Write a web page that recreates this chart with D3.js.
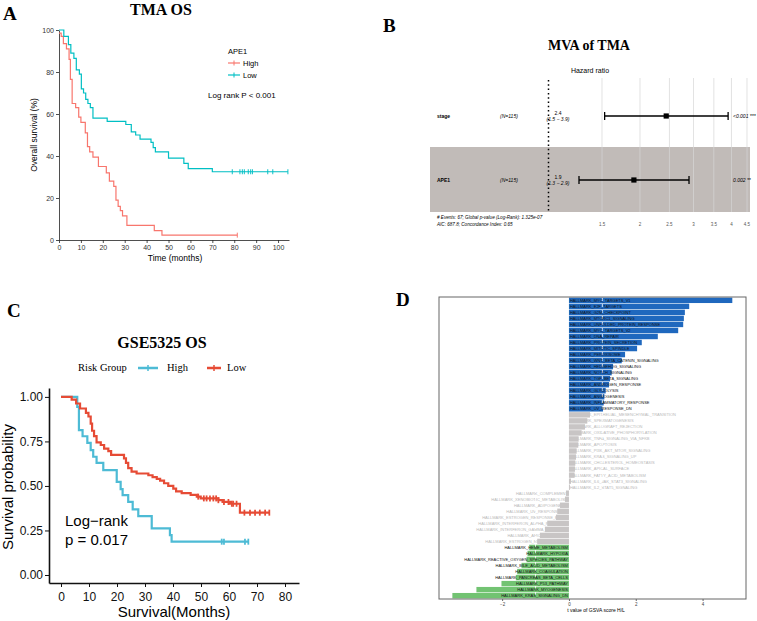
<!DOCTYPE html>
<html>
<head>
<meta charset="utf-8">
<script src="https://cdn.jsdelivr.net/npm/d3@7"></script>
<style>
  body { margin: 0; background: #fff; }
  svg { display: block; }
</style>
</head>
<body>
<div id="chart"></div>
<script>
// ---- Panel A: TMA OS, APE1 high / low (percent survival)
const tmaHighTime = [0, 1, 2, 3.4, 4.6, 5.2, 6, 7.6, 9, 10, 12, 13, 14, 15.5, 18, 21.6, 23, 25, 26, 27, 28, 29, 31, 43.5, 47];
const tmaHighSurv = [98.5, 97, 93.5, 91, 86, 76.5, 65, 63, 58.5, 56, 51, 44.5, 42, 39.5, 35, 32, 28, 25.5, 19, 16, 14, 11.5, 7, 4.5, 2.3];
const tmaHighEnd = 81.4;
const tmaHighCensor = [81.4];
const tmaLowTime = [0, 2.2, 4.3, 5.4, 6.8, 7.9, 9.3, 10.2, 11.2, 12.2, 13.2, 14.3, 15.5, 22, 30.5, 33, 35, 37, 42, 43, 44, 50, 57, 59, 70];
const tmaLowSurv = [100, 97, 93, 89, 86.5, 81, 79, 72, 70, 67, 65, 63, 58, 56.5, 55, 51.5, 50, 48, 46.5, 44, 42, 39, 36.5, 34, 32.5];
const tmaLowEnd = 104.5;
const tmaLowCensor = [79.1, 82.6, 83.7, 84.6, 86.4, 87.5, 88.3, 95.3, 97.6, 104.5];
const tmaXTicks = [0, 10, 20, 30, 40, 50, 60, 70, 80, 90, 100];
const tmaYTicks = [0, 20, 40, 60, 80, 100];

// ---- Panel B: multivariate Cox model
const mvaVars = ["stage", "APE1"];
const mvaN = ["(N=115)", "(N=115)"];
const mvaHR = [2.44, 1.91];
const mvaLow = [1.53, 1.26];
const mvaHigh = [3.9, 2.9];
const mvaHRText = ["2.4", "1.9"];
const mvaCIText = ["(1.5 \u2212 3.9)", "(1.3 \u2212 2.9)"];
const mvaP = ["<0.001 ***", "0.002 **"];
const hrTicks = [1.5, 2, 2.5, 3, 3.5, 4, 4.5];

// ---- Panel C: GSE5325 OS (survival probability)
const gseHighTime = [0, 5.8, 6.4, 7.7, 9.4, 10.6, 11.5, 12.7, 15.1, 19.9, 21.3, 22, 24, 25.6, 27.6, 32.4, 38.9, 39.5];
const gseHighSurv = [1, 0.944, 0.813, 0.779, 0.742, 0.701, 0.664, 0.63, 0.589, 0.523, 0.482, 0.449, 0.411, 0.368, 0.331, 0.262, 0.224, 0.187];
const gseHighEnd = 66.9;
const gseHighCensor = [57.4, 58.2, 65.7];
const gseLowTime = [0, 3.8, 5.4, 6.8, 8.9, 9.8, 10.6, 11.1, 11.8, 12.7, 14.2, 15.4, 16.9, 17.9, 22.5, 23.2, 24, 25.2, 27, 31.2, 32.7, 34.2, 35.4, 36.8, 38.3, 40.1, 41.1, 43.1, 46.3, 48.5, 49.9, 56.2, 57.7, 60.4, 63.9];
const gseLowSurv = [1, 0.985, 0.963, 0.935, 0.91, 0.89, 0.85, 0.81, 0.78, 0.745, 0.73, 0.71, 0.695, 0.675, 0.655, 0.63, 0.6, 0.58, 0.57, 0.56, 0.55, 0.54, 0.53, 0.515, 0.5, 0.485, 0.47, 0.46, 0.45, 0.44, 0.43, 0.42, 0.41, 0.4, 0.35];
const gseLowEnd = 74.4;
const gseLowCensor = [49, 51, 52, 53.2, 54.4, 55.4, 56.2, 58.2, 59.8, 61, 61.5, 62.7, 65.5, 67.5, 69.3, 71, 72.9, 74.4];
const gseXTicks = [0, 10, 20, 30, 40, 50, 60, 70, 80];
const gseYTicks = [0, 0.25, 0.5, 0.75, 1];

// ---- Panel D: GSVA t values (hallmark sets)
const gsvaNames = [
  "HALLMARK_MYC_TARGETS_V1", "HALLMARK_E2F_TARGETS", "HALLMARK_G2M_CHECKPOINT", "HALLMARK_MTORC1_SIGNALING",
  "HALLMARK_UNFOLDED_PROTEIN_RESPONSE", "HALLMARK_MYC_TARGETS_V2", "HALLMARK_DNA_REPAIR", "HALLMARK_PROTEIN_SECRETION",
  "HALLMARK_MITOTIC_SPINDLE", "HALLMARK_PEROXISOME", "HALLMARK_WNT_BETA_CATENIN_SIGNALING", "HALLMARK_HEDGEHOG_SIGNALING",
  "HALLMARK_NOTCH_SIGNALING", "HALLMARK_TGF_BETA_SIGNALING", "HALLMARK_ANDROGEN_RESPONSE", "HALLMARK_GLYCOLYSIS",
  "HALLMARK_ANGIOGENESIS", "HALLMARK_INFLAMMATORY_RESPONSE", "HALLMARK_UV_RESPONSE_DN", "HALLMARK_EPITHELIAL_MESENCHYMAL_TRANSITION",
  "HALLMARK_SPERMATOGENESIS", "HALLMARK_ALLOGRAFT_REJECTION", "HALLMARK_OXIDATIVE_PHOSPHORYLATION", "HALLMARK_TNFA_SIGNALING_VIA_NFKB",
  "HALLMARK_APOPTOSIS", "HALLMARK_PI3K_AKT_MTOR_SIGNALING", "HALLMARK_KRAS_SIGNALING_UP", "HALLMARK_CHOLESTEROL_HOMEOSTASIS",
  "HALLMARK_APICAL_SURFACE", "HALLMARK_FATTY_ACID_METABOLISM", "HALLMARK_IL6_JAK_STAT3_SIGNALING", "HALLMARK_IL2_STAT5_SIGNALING",
  "HALLMARK_COMPLEMENT", "HALLMARK_XENOBIOTIC_METABOLISM", "HALLMARK_ADIPOGENESIS", "HALLMARK_UV_RESPONSE_UP",
  "HALLMARK_ESTROGEN_RESPONSE_EARLY", "HALLMARK_INTERFERON_ALPHA_RESPONSE", "HALLMARK_INTERFERON_GAMMA_RESPONSE", "HALLMARK_APICAL_JUNCTION",
  "HALLMARK_ESTROGEN_RESPONSE_LATE", "HALLMARK_HEME_METABOLISM", "HALLMARK_HYPOXIA", "HALLMARK_REACTIVE_OXYGEN_SPECIES_PATHWAY",
  "HALLMARK_BILE_ACID_METABOLISM", "HALLMARK_COAGULATION", "HALLMARK_PANCREAS_BETA_CELLS", "HALLMARK_P53_PATHWAY",
  "HALLMARK_MYOGENESIS", "HALLMARK_KRAS_SIGNALING_DN"
];
const gsvaT = [
  4.89, 3.60, 3.47, 3.44, 3.42, 3.27, 2.66, 2.18, 2.04, 1.68, 1.58, 1.32, 1.28, 1.23, 1.20, 1.10, 1.06, 1.04, 1.02,
  0.63, 0.55, 0.48, 0.38, 0.29, 0.28, 0.23, 0.21, 0.19, 0.18, 0.17, 0.06, 0.03,
  -0.09, -0.12, -0.27, -0.35, -0.39, -0.65, -0.72, -0.87, -0.95,
  -1.19, -1.24, -1.27, -1.42, -1.55, -1.59, -2.02, -2.77, -3.49
];
const gsvaXTicks = [-2, 0, 2, 4];
const gsvaCut = 1;

const sans = "'Liberation Sans', Arial, Helvetica, sans-serif";
const serif = "'Liberation Serif', 'Times New Roman', serif";

const svg = d3.select("#chart").append("svg")
  .attr("width", 757)
  .attr("height", 621)
  .style("font-family", sans);

// helpers for Kaplan-Meier curves
function kmPoints(times, surv, end) {
  const pts = times.map((t, i) => [t, surv[i]]);
  pts.push([end, surv[surv.length - 1]]);
  return pts;
}
function survAt(times, surv, t) {
  let s = surv[0];
  times.forEach((tt, i) => { if (tt <= t) s = surv[i]; });
  return s;
}
function drawKM(g, xs, ys, times, surv, end, censor, color, width, tick) {
  const line = d3.line().x(d => xs(d[0])).y(d => ys(d[1])).curve(d3.curveStepAfter);
  g.append("path")
    .datum(kmPoints(times, surv, end))
    .attr("d", line)
    .attr("fill", "none")
    .attr("stroke", color)
    .attr("stroke-width", width);
  g.selectAll(null)
    .data(censor)
    .enter()
    .append("line")
    .attr("x1", d => xs(d)).attr("x2", d => xs(d))
    .attr("y1", d => ys(survAt(times, surv, d)) - tick)
    .attr("y2", d => ys(survAt(times, surv, d)) + tick)
    .attr("stroke", color)
    .attr("stroke-width", width * 0.8);
}

// panel letters
const letters = [["A", 3, 20], ["B", 383, 32], ["C", 7, 317], ["D", 396, 306]];
svg.selectAll("text.panel-letter")
  .data(letters)
  .enter()
  .append("text")
  .attr("class", "panel-letter")
  .attr("x", d => d[1])
  .attr("y", d => d[2])
  .style("font-family", serif)
  .style("font-weight", "bold")
  .style("font-size", "19px")
  .text(d => d[0]);

// ================= Panel A =================
const gA = svg.append("g");
const ax = d3.scaleLinear().domain([0, 105]).range([59, 289]);
const ay = d3.scaleLinear().domain([0, 100]).range([240, 30]);

gA.append("text")
  .attr("x", 161).attr("y", 15)
  .attr("text-anchor", "middle")
  .style("font-family", serif).style("font-weight", "bold").style("font-size", "16px")
  .text("TMA OS");

const axA = gA.append("g")
  .attr("transform", "translate(0,240)")
  .call(d3.axisBottom(ax).tickValues(tmaXTicks).tickSize(3).tickSizeOuter(0).tickPadding(2));
const ayA = gA.append("g")
  .attr("transform", "translate(59,0)")
  .call(d3.axisLeft(ay).tickValues(tmaYTicks).tickSize(3).tickSizeOuter(0).tickPadding(2));
[axA, ayA].forEach(a => {
  a.selectAll("text").style("font-size", "7px").style("font-family", sans).attr("fill", "#333");
  a.selectAll("line, path").attr("stroke", "#222").attr("stroke-width", 0.8);
});

drawKM(gA, ax, ay, tmaHighTime, tmaHighSurv, tmaHighEnd, tmaHighCensor, "#F8766D", 1.2, 2.5);
drawKM(gA, ax, ay, tmaLowTime, tmaLowSurv, tmaLowEnd, tmaLowCensor, "#00BFC4", 1.2, 2.5);

gA.append("text")
  .attr("x", 175).attr("y", 261)
  .attr("text-anchor", "middle")
  .style("font-size", "8.5px")
  .text("Time (months)");
gA.append("text")
  .attr("transform", "translate(37,135) rotate(-90)")
  .attr("text-anchor", "middle")
  .style("font-size", "8.5px")
  .text("Overall survival (%)");

// legend A
gA.append("text").attr("x", 228).attr("y", 54).style("font-size", "7.5px").text("APE1");
const legA = [["High", "#F8766D", 63], ["Low", "#00BFC4", 75]];
legA.forEach(d => {
  gA.append("line").attr("x1", 228).attr("x2", 240).attr("y1", d[2]).attr("y2", d[2])
    .attr("stroke", d[1]).attr("stroke-width", 1.2);
  gA.append("line").attr("x1", 234).attr("x2", 234).attr("y1", d[2] - 2.5).attr("y2", d[2] + 2.5)
    .attr("stroke", d[1]).attr("stroke-width", 1);
  gA.append("text").attr("x", 243).attr("y", d[2] + 2.7).style("font-size", "7.5px").text(d[0]);
});
gA.append("text")
  .attr("x", 208).attr("y", 98)
  .style("font-size", "8px")
  .text("Log rank P < 0.001");

// ================= Panel B =================
const gB = svg.append("g");
const hx = d3.scaleLog().domain([1, 4.5]).range([548.5, 747]);
const hy = d3.scalePoint().domain(mvaVars).range([116, 180]);

gB.append("text")
  .attr("x", 589).attr("y", 50)
  .attr("text-anchor", "middle")
  .style("font-family", serif).style("font-weight", "bold").style("font-size", "14px")
  .text("MVA of TMA");
gB.append("text")
  .attr("x", 590).attr("y", 73)
  .attr("text-anchor", "middle")
  .style("font-size", "7px")
  .text("Hazard ratio");

// shaded band for second row
gB.append("rect")
  .attr("x", 430).attr("y", 147)
  .attr("width", 320).attr("height", 65)
  .attr("fill", "#c1bbb8");

gB.selectAll("line.grid")
  .data(hrTicks)
  .enter()
  .append("line")
  .attr("class", "grid")
  .attr("x1", d => hx(d)).attr("x2", d => hx(d))
  .attr("y1", 78).attr("y2", 212)
  .attr("stroke", "#d6d6d6")
  .attr("stroke-width", 0.7);

gB.selectAll("text.hrtick")
  .data(hrTicks)
  .enter()
  .append("text")
  .attr("class", "hrtick")
  .attr("x", d => hx(d)).attr("y", 226)
  .attr("text-anchor", "middle")
  .style("font-size", "4.5px")
  .attr("fill", "#555")
  .text(d => d);

gB.append("line")
  .attr("x1", hx(1)).attr("x2", hx(1))
  .attr("y1", 80).attr("y2", 213)
  .attr("stroke", "#000")
  .attr("stroke-width", 1.5)
  .attr("stroke-dasharray", "1.5,2.8");

mvaVars.forEach((v, i) => {
  const y = hy(v);
  gB.append("text").attr("x", 437).attr("y", y + 2)
    .style("font-size", "5px").style("font-weight", "bold").text(v);
  gB.append("text").attr("x", 500).attr("y", y + 2)
    .style("font-size", "5px").style("font-style", "italic").text(mvaN[i]);
  gB.append("text").attr("x", 558).attr("y", y - 1)
    .attr("text-anchor", "middle").style("font-size", "5px").text(mvaHRText[i]);
  gB.append("text").attr("x", 558).attr("y", y + 5)
    .attr("text-anchor", "middle").style("font-size", "5px").style("font-style", "italic").text(mvaCIText[i]);
  gB.append("text").attr("x", 733).attr("y", y + 2)
    .style("font-size", "5px").style("font-style", "italic").text(mvaP[i]);
  gB.append("line")
    .attr("x1", hx(mvaLow[i])).attr("x2", hx(mvaHigh[i]))
    .attr("y1", y).attr("y2", y)
    .attr("stroke", "#000").attr("stroke-width", 1.3);
  [mvaLow[i], mvaHigh[i]].forEach(c => {
    gB.append("line")
      .attr("x1", hx(c)).attr("x2", hx(c))
      .attr("y1", y - 4).attr("y2", y + 4)
      .attr("stroke", "#000").attr("stroke-width", 1.3);
  });
  gB.append("rect")
    .attr("x", hx(mvaHR[i]) - 2.6).attr("y", y - 2.6)
    .attr("width", 5.2).attr("height", 5.2)
    .attr("fill", "#000");
});

gB.append("text").attr("x", 437).attr("y", 219)
  .style("font-size", "4.6px").style("font-style", "italic")
  .text("# Events: 67; Global p-value (Log-Rank): 1.325e-07");
gB.append("text").attr("x", 437).attr("y", 225.5)
  .style("font-size", "4.6px").style("font-style", "italic")
  .text("AIC: 687.8; Concordance Index: 0.65");

// ================= Panel C =================
const gC = svg.append("g");
const cx = d3.scaleLinear().domain([-4.29, 85]).range([49, 299]);
const cy = d3.scaleLinear().domain([-0.045, 1.05]).range([583, 388]);

gC.append("text")
  .attr("x", 162).attr("y", 348)
  .attr("text-anchor", "middle")
  .style("font-family", serif).style("font-weight", "bold").style("font-size", "16px")
  .text("GSE5325 OS");

// legend C
gC.append("text").attr("x", 78).attr("y", 371)
  .style("font-family", serif).style("font-size", "10.5px").text("Risk Group");
const legC = [["High", "#4DBBD5", 138, 158, 167], ["Low", "#E64B35", 207, 221, 227]];
legC.forEach(d => {
  gC.append("line").attr("x1", d[2]).attr("x2", d[3]).attr("y1", 368).attr("y2", 368)
    .attr("stroke", d[1]).attr("stroke-width", 2.5);
  gC.append("line").attr("x1", (d[2] + d[3]) / 2).attr("x2", (d[2] + d[3]) / 2).attr("y1", 365).attr("y2", 371)
    .attr("stroke", d[1]).attr("stroke-width", 1.5);
  gC.append("text").attr("x", d[4]).attr("y", 371)
    .style("font-family", serif).style("font-size", "10.5px").text(d[0]);
});

const axC = gC.append("g")
  .attr("transform", "translate(0,583)")
  .call(d3.axisBottom(cx).tickValues(gseXTicks).tickSize(4).tickSizeOuter(0).tickPadding(5));
const ayC = gC.append("g")
  .attr("transform", "translate(49,0)")
  .call(d3.axisLeft(cy).tickValues(gseYTicks).tickFormat(d3.format(".2f")).tickSize(4).tickSizeOuter(0).tickPadding(2));
[axC, ayC].forEach(a => {
  a.selectAll("text").style("font-size", "12px").style("font-family", sans).attr("fill", "#111");
  a.selectAll("line").attr("stroke", "#111").attr("stroke-width", 1);
  a.select("path.domain").attr("stroke", "#111").attr("stroke-width", 1.6);
});

drawKM(gC, cx, cy, gseHighTime, gseHighSurv, gseHighEnd, gseHighCensor.concat([gseHighEnd]), "#4DBBD5", 2.2, 3);
drawKM(gC, cx, cy, gseLowTime, gseLowSurv, gseLowEnd, gseLowCensor, "#E64B35", 2.2, 3);

gC.append("text")
  .attr("x", 174).attr("y", 617)
  .attr("text-anchor", "middle")
  .style("font-size", "15px")
  .text("Survival(Months)");
gC.append("text")
  .attr("transform", "translate(13,487) rotate(-90)")
  .attr("text-anchor", "middle")
  .style("font-size", "15px")
  .text("Survival probability");
gC.append("text").attr("x", 65).attr("y", 526).style("font-size", "15px").text("Log\u2212rank");
gC.append("text").attr("x", 65).attr("y", 545).style("font-size", "15px").text("p = 0.017");

// ================= Panel D =================
const gD = svg.append("g");
const dx = d3.scaleLinear().domain([-3.89, 5.30]).range([439, 746]);
const dy = d3.scaleBand().domain(gsvaNames).range([297, 599]).paddingInner(0.1).paddingOuter(0.1);
const gsva = gsvaNames.map((n, i) => ({ name: n, t: gsvaT[i] }));
const isSig = d => Math.abs(d.t) >= gsvaCut;
const barColor = d => d.t >= gsvaCut ? "#1f68be" : (d.t <= -gsvaCut ? "#72c372" : "#c8c5c5");

function gsvaLabels(rows) {
  gD.selectAll(null)
    .data(rows)
    .enter()
    .append("text")
    .attr("x", d => d.t >= 0 ? dx(0) + 1 : dx(0) - 1)
    .attr("y", d => dy(d.name) + dy.bandwidth() / 2)
    .attr("dy", "0.35em")
    .attr("text-anchor", d => d.t >= 0 ? "start" : "end")
    .style("font-size", "4px")
    .attr("fill", d => isSig(d) ? "#111" : "#b9b9b9")
    .text(d => d.name);
}

// non-significant labels sit under their bars
gsvaLabels(gsva.filter(d => !isSig(d)));

gD.selectAll("rect.bar")
  .data(gsva)
  .enter()
  .append("rect")
  .attr("class", "bar")
  .attr("x", d => dx(Math.min(0, d.t)))
  .attr("y", d => dy(d.name))
  .attr("width", d => Math.abs(dx(d.t) - dx(0)))
  .attr("height", dy.bandwidth())
  .attr("fill", barColor);

// threshold lines in white
gsvaCut && [-gsvaCut, gsvaCut].forEach(c => {
  gD.append("line")
    .attr("x1", dx(c)).attr("x2", dx(c))
    .attr("y1", 298).attr("y2", 598)
    .attr("stroke", "#fff")
    .attr("stroke-width", 0.8)
    .attr("stroke-dasharray", "3,3");
});

gsvaLabels(gsva.filter(isSig));

gD.append("rect")
  .attr("x", 439).attr("y", 297)
  .attr("width", 307).attr("height", 302)
  .attr("fill", "none")
  .attr("stroke", "#666")
  .attr("stroke-width", 1);

const axD = gD.append("g")
  .attr("transform", "translate(0,599)")
  .call(d3.axisBottom(dx).tickValues(gsvaXTicks).tickSize(2).tickSizeOuter(0).tickPadding(2));
axD.select("path.domain").remove();
axD.selectAll("line").attr("stroke", "#666");
axD.selectAll("text").style("font-size", "4.5px").attr("fill", "#444");

gD.append("text")
  .attr("x", 596).attr("y", 612)
  .attr("text-anchor", "middle")
  .style("font-size", "5px")
  .text("t value of GSVA score H/L");
</script>
</body>
</html>
